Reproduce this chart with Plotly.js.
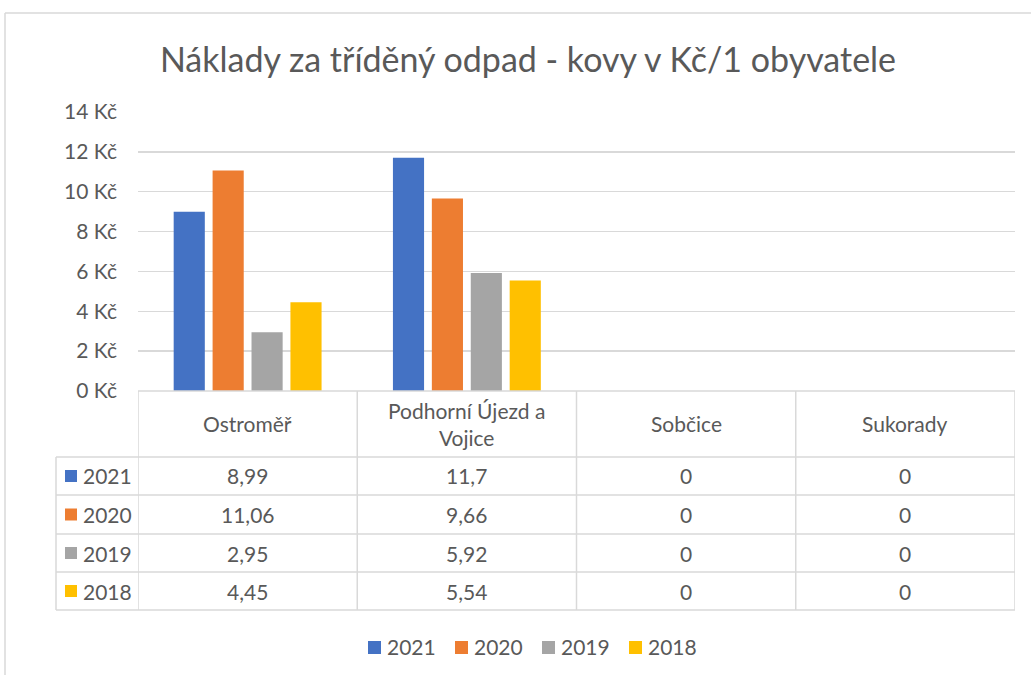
<!DOCTYPE html>
<html>
<head>
<meta charset="utf-8">
<script src="https://cdn.plot.ly/plotly-3.0.1.min.js"></script>
<style>html,body{margin:0;padding:0;background:#fff;}#chart{width:1031px;height:675px;}</style>
</head>
<body>
<div id="chart"></div>
<script>
var categories = ["Ostroměř", "Podhorní Újezd a Vojice", "Sobčice", "Sukorady"];
var headerLabels = ["Ostroměř", "Podhorní Újezd a<br>Vojice", "Sobčice", "Sukorady"];
var seriesNames = ["2021", "2020", "2019", "2018"];
var v2021 = [8.99, 11.7, 0, 0];
var v2020 = [11.06, 9.66, 0, 0];
var v2019 = [2.95, 5.92, 0, 0];
var v2018 = [4.45, 5.54, 0, 0];
var yTicks = [0, 2, 4, 6, 8, 10, 12, 14];
var chartTitle = "Náklady za tříděný odpad - kovy v Kč/1 obyvatele";

var series = [v2021, v2020, v2019, v2018];
var colors = ["#4472C4", "#ED7D31", "#A5A5A5", "#FFC000"];
var FONT = "Lato, 'Open Sans', sans-serif";
var TXT = "#595959";
var GRID = "#d9d9d9";
var FS = 21;

var W = 1031, H = 675;
var L = 138, R = 1015, T = 112, B = 391;
function px(x) { return (x - L) / (R - L); }
function py(y) { return (B - y) / (B - T); }

var traces = series.map(function (vals, i) {
  return {
    type: "bar",
    name: seriesNames[i],
    x: categories,
    y: vals,
    marker: { color: colors[i] },
    hoverinfo: "x+y+name"
  };
});

var rowLines = [457, 495, 534, 572, 610];
var shapes = [];
var annotations = [];
// chart outer border (top-left)
shapes.push({ type: "line", xref: "paper", yref: "paper", x0: px(5), x1: px(1031), y0: py(13), y1: py(13), line: { color: GRID, width: 1.5 } });
shapes.push({ type: "line", xref: "paper", yref: "paper", x0: px(5), x1: px(5), y0: py(13), y1: py(675), line: { color: GRID, width: 1.5 } });
// table top
shapes.push({ type: "line", xref: "paper", yref: "paper", x0: 0, x1: 1, y0: 0, y1: 0, line: { color: GRID, width: 1.5 } });
// horizontal rows
rowLines.forEach(function (y) {
  shapes.push({ type: "line", xref: "paper", yref: "paper", x0: px(56), x1: 1, y0: py(y), y1: py(y), line: { color: GRID, width: 1.5 } });
});
// vertical lines at category boundaries
for (var c = 0; c <= categories.length; c++) {
  shapes.push({ type: "line", xref: "x", yref: "paper", x0: c - 0.5, x1: c - 0.5, y0: 0, y1: py(610), line: { color: GRID, width: 1.5 } });
}
shapes.push({ type: "line", xref: "paper", yref: "paper", x0: px(56), x1: px(56), y0: py(457), y1: py(610), line: { color: GRID, width: 1.5 } });

// header
headerLabels.forEach(function (lab, i) {
  annotations.push({ xref: "x", yref: "paper", x: i, y: py(424), text: lab, showarrow: false, xanchor: "center", yanchor: "middle", font: { family: FONT, size: FS, color: TXT } });
});
// rows
function fmt(v) { return String(v).replace(".", ","); }
series.forEach(function (vals, r) {
  var yc = (rowLines[r] + rowLines[r + 1]) / 2;
  shapes.push({ type: "rect", xref: "paper", yref: "paper", x0: px(65), x1: px(77), y0: py(yc - 6), y1: py(yc + 6), fillcolor: colors[r], line: { width: 0 } });
  annotations.push({ xref: "paper", yref: "paper", x: px(81), y: py(yc), text: seriesNames[r], showarrow: false, xanchor: "left", yanchor: "middle", font: { family: FONT, size: FS, color: TXT } });
  vals.forEach(function (v, i) {
    annotations.push({ xref: "x", yref: "paper", x: i, y: py(yc), text: fmt(v), showarrow: false, xanchor: "center", yanchor: "middle", font: { family: FONT, size: FS, color: TXT } });
  });
});

// legend (bottom)
var legX = [368, 455, 542, 629];
seriesNames.forEach(function (n, i) {
  shapes.push({ type: "rect", xref: "paper", yref: "paper", x0: px(legX[i]), x1: px(legX[i] + 13), y0: py(641), y1: py(654), fillcolor: colors[i], line: { width: 0 } });
  annotations.push({ xref: "paper", yref: "paper", x: px(legX[i] + 17), y: py(646), text: n, showarrow: false, xanchor: "left", yanchor: "middle", font: { family: FONT, size: FS, color: TXT } });
});

var layout = {
  width: W, height: H,
  margin: { l: L, r: W - R, t: T, b: H - B, pad: 0 },
  paper_bgcolor: "#fff", plot_bgcolor: "#fff",
  title: { text: chartTitle, x: 528 / W, xanchor: "center", xref: "container", y: 1 - 60 / H, yanchor: "middle", font: { family: FONT, size: 34, color: TXT } },
  barmode: "group", bargap: 0.29, bargroupgap: 0.2,
  xaxis: { type: "category", showticklabels: false, showgrid: false, zeroline: false, showline: false, ticks: "", range: [-0.5, 3.5], fixedrange: true },
  yaxis: { range: [0, 14], tickvals: yTicks, ticktext: yTicks.map(function (t) { return t + " Kč"; }), showgrid: true, gridcolor: GRID, gridwidth: 1.5, zeroline: false, showline: false, ticks: "", ticklabelstandoff: 20, tickfont: { family: FONT, size: FS, color: TXT }, fixedrange: true },
  showlegend: false,
  shapes: shapes,
  annotations: annotations
};

Plotly.newPlot("chart", traces, layout, { displayModeBar: false, staticPlot: true });
</script>
</body>
</html>
